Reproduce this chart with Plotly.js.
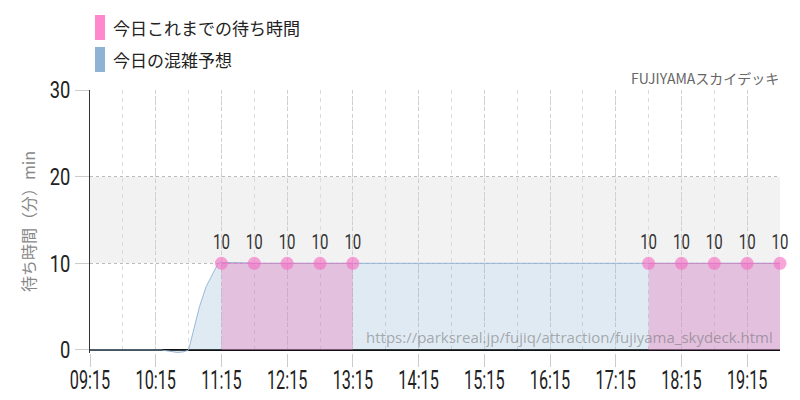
<!DOCTYPE html>
<html>
<head>
<meta charset="utf-8">
<script src="https://cdn.plot.ly/plotly-3.0.1.min.js"></script>
<style>
html,body{margin:0;padding:0;background:#fff;}
#chart{width:800px;height:400px;}
#chart g.xtick{transform-box:fill-box;transform-origin:center top;transform:scaleX(0.65);}
#chart g.ytick{transform-box:fill-box;transform-origin:right center;transform:scaleX(0.78);}
#chart g.textpoint text{transform-box:fill-box;transform-origin:center center;transform:scaleX(0.77);}
</style>
</head>
<body>
<div id="chart"></div>
<script>
const DAY = '2024-01-01 ';
// Actual waiting times so far (min)
const actualTimes = ['11:15','11:45','12:15','12:45','13:15','17:45','18:15','18:45','19:15','19:45'];
const actualValues = [10,10,10,10,10,10,10,10,10,10];
// Today's forecast (min)
const forecastTimes = ['09:15','09:30','09:45','10:00','10:15','10:20','10:28','10:35','10:41','10:45','10:49','10:55','11:01','11:07','11:12','11:15','11:30','11:40','11:45','12:15','12:45','13:15','13:45','14:15','14:45','15:15','15:45','16:15','16:45','17:15','17:45','18:15','18:45','19:15','19:45'];
const forecastValues = [0,0,0,0,0,0,-0.15,-0.3,-0.2,0,2,5,7.3,8.8,10,10.1,10.1,10.05,10,10,10,10,10,10,10,10,10,10,10,10,10,10,10,10,10];
const yTicks = [0,10,20,30];
const xTickLabels = ['09:15','10:15','11:15','12:15','13:15','14:15','15:15','16:15','17:15','18:15','19:15'];

const numFont = 'Roboto, Liberation Sans, sans-serif';
const jp = 'Noto Sans CJK JP, Noto Sans, sans-serif';

function toMin(t){const p=t.split(':');return +p[0]*60+ +p[1];}
// split actual series into continuous segments (30-min interval)
const segments=[];
actualTimes.forEach((t,i)=>{
  if(i===0 || toMin(t)-toMin(actualTimes[i-1])>30){segments.push({x:[],y:[]});}
  segments[segments.length-1].x.push(DAY+t);
  segments[segments.length-1].y.push(actualValues[i]);
});

const traces=[];
traces.push({
  x: forecastTimes.map(t=>DAY+t), y: forecastValues,
  type:'scatter', mode:'lines', fill:'tozeroy',
  line:{color:'rgba(143,179,211,0.9)', width:1},
  fillcolor:'rgba(143,179,211,0.28)', hoverinfo:'skip', showlegend:false
});
segments.forEach(s=>{
  traces.push({
    x:s.x, y:s.y, type:'scatter', mode:'lines+markers+text', fill:'tozeroy',
    line:{color:'rgba(220,110,190,0.55)', width:1},
    fillcolor:'rgba(230,130,190,0.4)',
    marker:{color:'rgba(245,110,195,0.62)', size:13},
    text:s.y.map(String), textposition:'top center',
    textfont:{family:numFont, size:19.5, color:'#333'},
    cliponaxis:false, showlegend:false
  });
});

const layout={
  width:800, height:400,
  margin:{l:90, r:20, t:90, b:47},
  paper_bgcolor:'#fff', plot_bgcolor:'rgba(0,0,0,0)',
  showlegend:false,
  xaxis:{
    type:'date',
    range:[DAY+'09:15', DAY+'19:45'],
    tickmode:'array',
    tickvals:xTickLabels.map(t=>DAY+t),
    ticktext:xTickLabels,
    ticks:'outside', ticklen:13, tickcolor:'#ccc', tickwidth:1,
    ticklabelstandoff:-8,
    tickfont:{family:numFont, size:25, color:'#222'},
    showgrid:true, gridcolor:'#cdcdcd', griddash:'dot', gridwidth:1,
    minor:{dtick:1800000, tick0:DAY+'09:15', showgrid:true, gridcolor:'#dadada', griddash:'4px,4px', gridwidth:1, ticks:''},
    showline:false, zeroline:false, fixedrange:true
  },
  yaxis:{
    range:[-0.35,30],
    tickvals:yTicks,
    ticks:'outside', ticklen:14, tickcolor:'#ccc',
    tickfont:{family:numFont, size:23.5, color:'#222'},
    showgrid:true, gridcolor:'#bbb', griddash:'dot',
    zeroline:true, zerolinecolor:'#111', zerolinewidth:1.5,
    showline:true, linecolor:'#333', linewidth:1,
    title:{text:'待ち時間（分）min', font:{family:jp, size:16, color:'#888'}, standoff:4},
    fixedrange:true
  },
  shapes:[
    {type:'rect', xref:'paper', yref:'y', x0:0, x1:1, y0:10, y1:20, fillcolor:'#f2f2f2', line:{width:0}, layer:'below'},
    {type:'rect', xref:'paper', yref:'paper', x0:(95-90)/690, x1:(105-90)/690, y0:(353-15)/263, y1:(353-40)/263, fillcolor:'#ff88cc', line:{width:0}},
    {type:'rect', xref:'paper', yref:'paper', x0:(95-90)/690, x1:(105-90)/690, y0:(353-47)/263, y1:(353-72)/263, fillcolor:'#8fb3d3', line:{width:0}}
  ],
  annotations:[
    {xref:'paper', yref:'paper', x:(111-90)/690, y:(353-27)/263, xanchor:'left', yanchor:'middle', showarrow:false, text:'今日これまでの待ち時間', font:{family:jp, size:17, color:'#222'}},
    {xref:'paper', yref:'paper', x:(111-90)/690, y:(353-59)/263, xanchor:'left', yanchor:'middle', showarrow:false, text:'今日の混雑予想', font:{family:jp, size:17, color:'#222'}},
    {xref:'paper', yref:'paper', x:(781-90)/690, y:(353-78)/263, xanchor:'right', yanchor:'middle', showarrow:false, text:'FUJIYAMAスカイデッキ', font:{family:jp, size:14, color:'#666'}},
    {xref:'paper', yref:'paper', x:(775-90)/690, y:(353-337)/263, xanchor:'right', yanchor:'middle', showarrow:false, text:'https://parksreal.jp/fujiq/attraction/fujiyama_skydeck.html', font:{family:'Open Sans, Noto Sans, sans-serif', size:15, color:'rgba(110,110,110,0.55)'}}
  ]
};
Plotly.newPlot('chart', traces, layout, {staticPlot:true, displayModeBar:false});
</script>
</body>
</html>
